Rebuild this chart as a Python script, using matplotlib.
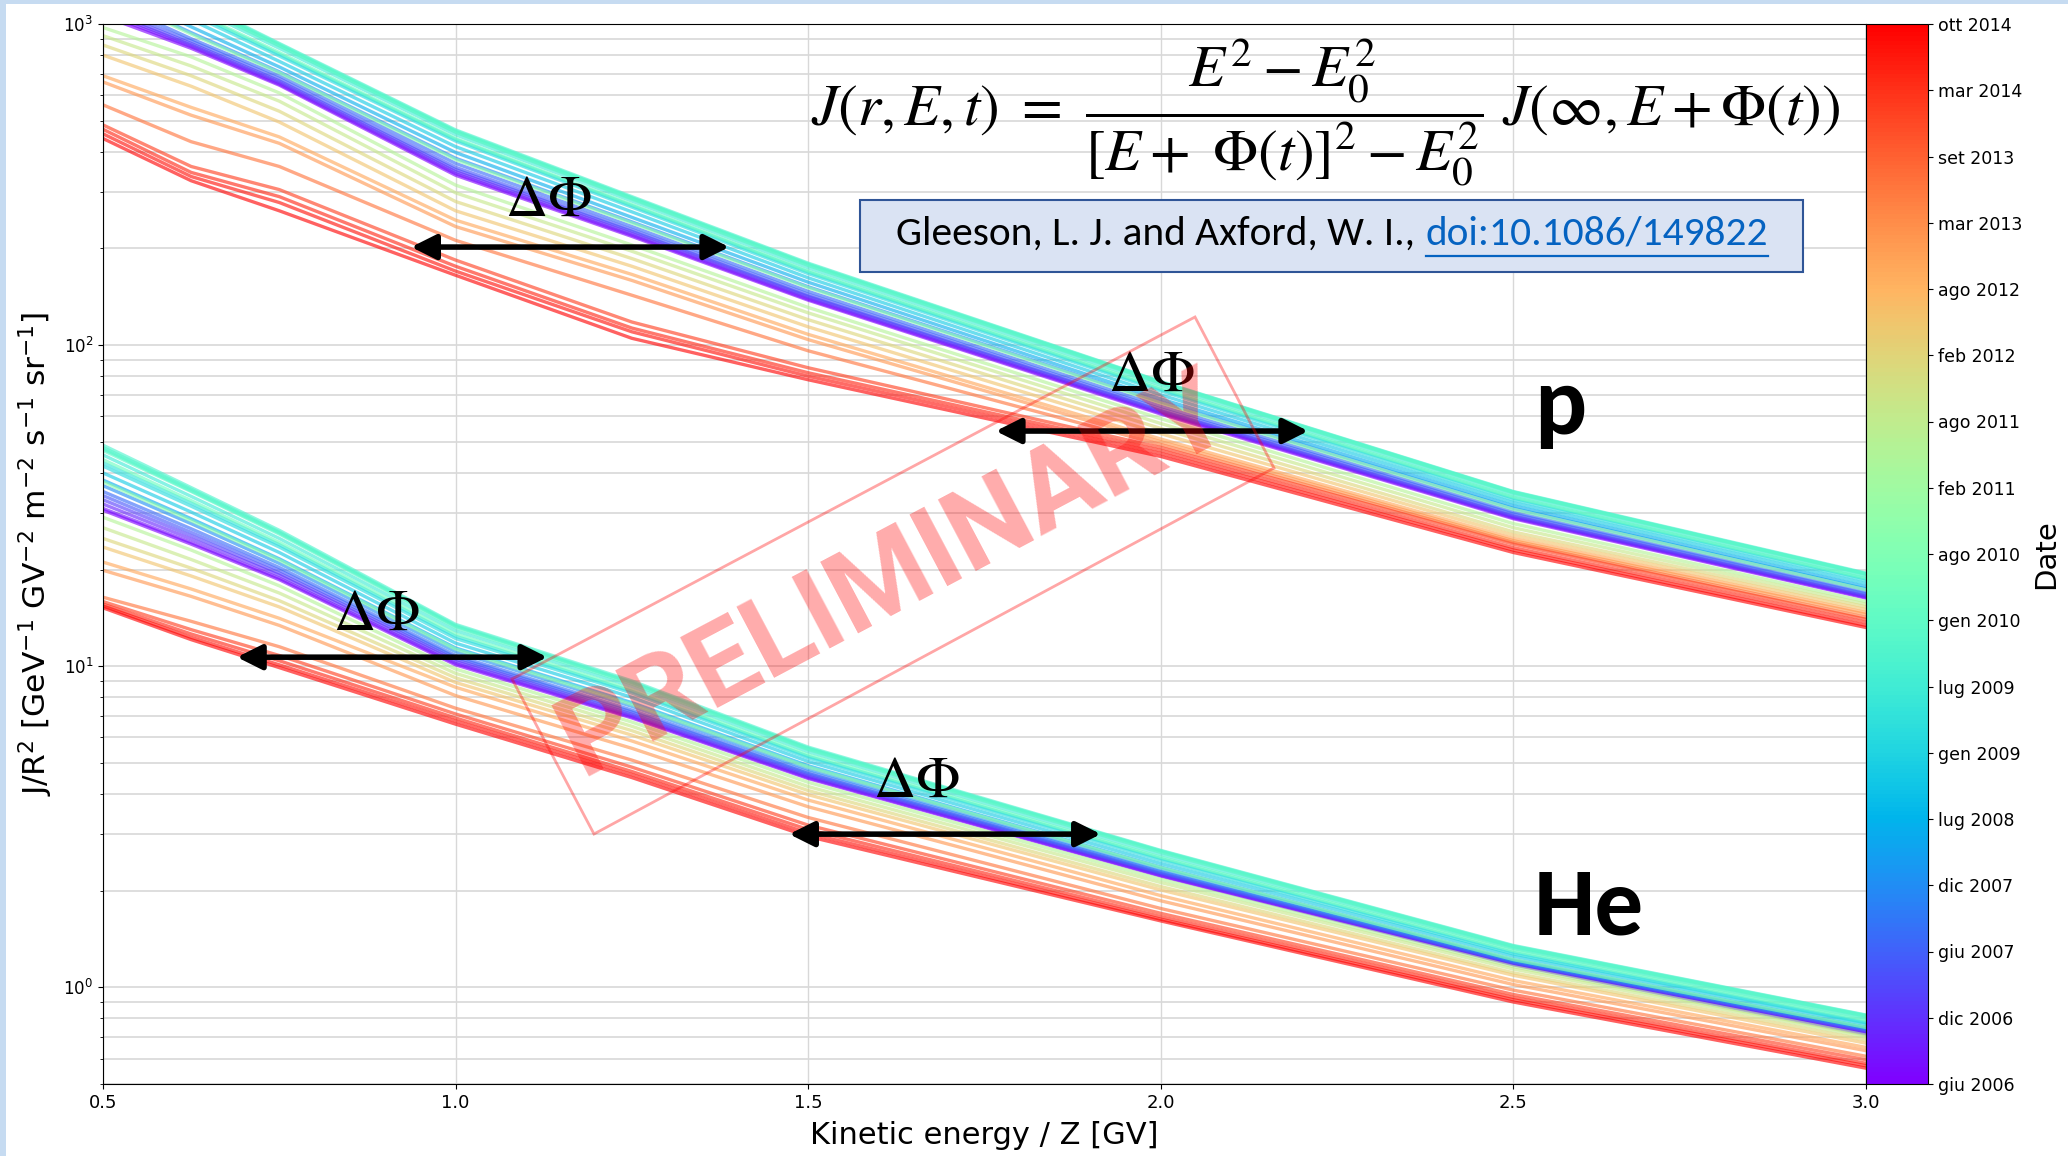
import matplotlib
matplotlib.use("Agg")
import matplotlib.pyplot as plt
import numpy as np
from matplotlib import font_manager
from matplotlib.cm import ScalarMappable
from matplotlib.colors import Normalize
from matplotlib.lines import Line2D
from matplotlib.patches import FancyArrowPatch, Polygon, Rectangle
from matplotlib.ticker import LogLocator, MultipleLocator, NullFormatter

W, H = 2068, 1156
DPI = 100

# energia cinetica / Z [GV]
energy = [0.5, 0.625, 0.75, 1.0, 1.25, 1.5, 2.0, 2.5, 3.0]

# posizione di ogni curva sulla barra colori (0 = giu 2006, 1 = ott 2014)
period = [0.00, 0.02, 0.05, 0.08, 0.11, 0.14, 0.19, 0.24, 0.29, 0.33, 0.35,
          0.37, 0.39, 0.40, 0.42, 0.43, 0.46, 0.53, 0.60, 0.64, 0.68, 0.72,
          0.77, 0.80, 0.85, 0.92, 0.95, 0.98, 1.00]

# protoni, J/R^2
proton_flux = [
    [1060, 840, 645, 338, 218, 138, 61.0, 28.8, 16.3],
    [1080, 850, 650, 342, 220, 139, 61.5, 29.0, 16.4],
    [1100, 860, 658, 347, 223, 141, 62.0, 29.2, 16.5],
    [1120, 870, 665, 352, 226, 142, 62.5, 29.4, 16.6],
    [1150, 885, 676, 358, 229, 144, 63.3, 29.8, 16.8],
    [1200, 900, 690, 368, 234, 147, 64.5, 30.2, 17.0],
    [1260, 940, 710, 382, 242, 152, 66.5, 31.0, 17.4],
    [1320, 980, 735, 398, 250, 157, 68.0, 31.6, 17.7],
    [1400, 1030, 765, 415, 260, 162, 70.0, 32.3, 18.1],
    [1480, 1070, 795, 432, 269, 167, 72.0, 33.0, 18.5],
    [1520, 1090, 805, 437, 272, 169, 72.8, 33.4, 18.7],
    [1600, 1140, 840, 452, 281, 174, 75.0, 34.2, 19.1],
    [1660, 1170, 858, 462, 287, 178, 76.5, 34.8, 19.4],
    [1700, 1190, 870, 468, 290, 180, 77.0, 35.0, 19.5],
    [1680, 1180, 865, 465, 288, 179, 76.8, 34.9, 19.4],
    [1640, 1160, 855, 460, 285, 177, 76.0, 34.6, 19.3],
    [1540, 1100, 815, 440, 274, 170, 73.5, 33.6, 18.8],
    [1250, 930, 705, 378, 240, 151, 66.0, 30.8, 17.3],
    [975, 790, 610, 315, 205, 131, 59.0, 27.8, 15.9],
    [920, 740, 575, 298, 196, 126, 57.0, 27.0, 15.6],
    [860, 690, 535, 280, 186, 120, 55.0, 26.2, 15.3],
    [800, 640, 495, 262, 176, 114, 53.0, 25.6, 15.0],
    [690, 550, 445, 245, 166, 108, 51.0, 25.0, 14.7],
    [660, 520, 425, 234, 159, 104, 50.0, 24.6, 14.5],
    [560, 430, 360, 212, 143, 96, 49.0, 24.3, 14.2],
    [485, 360, 305, 184, 118, 85, 48.0, 24.0, 14.0],
    [470, 345, 290, 176, 113, 82, 47.0, 23.4, 13.7],
    [455, 335, 278, 170, 110, 80, 46.0, 23.0, 13.4],
    [440, 325, 262, 165, 105, 78, 45.0, 22.6, 13.2],
]

# elio, J/R^2
helium_flux = [
    [30.6, 24.0, 18.6, 10.1, 6.90, 4.47, 2.22, 1.175, 0.715],
    [31.0, 24.3, 18.8, 10.2, 6.95, 4.50, 2.23, 1.18, 0.720],
    [32.0, 24.9, 19.2, 10.35, 7.02, 4.54, 2.245, 1.185, 0.725],
    [33.0, 25.5, 19.5, 10.5, 7.10, 4.58, 2.26, 1.19, 0.730],
    [34.0, 26.1, 19.9, 10.65, 7.20, 4.63, 2.275, 1.195, 0.735],
    [35.0, 26.8, 20.3, 10.8, 7.30, 4.68, 2.29, 1.20, 0.740],
    [36.5, 27.8, 20.9, 11.1, 7.50, 4.78, 2.33, 1.21, 0.745],
    [38.0, 28.8, 21.6, 11.4, 7.70, 4.90, 2.37, 1.22, 0.750],
    [40.0, 30.2, 22.6, 11.8, 8.00, 5.05, 2.43, 1.25, 0.765],
    [42.0, 31.5, 23.5, 12.2, 8.25, 5.18, 2.49, 1.27, 0.775],
    [43.0, 32.2, 23.9, 12.4, 8.35, 5.24, 2.52, 1.285, 0.780],
    [45.5, 33.8, 25.0, 12.9, 8.65, 5.42, 2.59, 1.32, 0.800],
    [47.5, 35.2, 26.0, 13.3, 8.88, 5.54, 2.65, 1.34, 0.815],
    [48.8, 36.0, 26.5, 13.5, 9.00, 5.60, 2.67, 1.35, 0.820],
    [48.0, 35.6, 26.2, 13.4, 8.92, 5.56, 2.66, 1.345, 0.818],
    [47.0, 35.0, 25.8, 13.2, 8.80, 5.50, 2.63, 1.33, 0.810],
    [44.0, 32.8, 24.3, 12.6, 8.45, 5.30, 2.54, 1.30, 0.790],
    [37.5, 28.4, 21.4, 11.3, 7.60, 4.85, 2.36, 1.22, 0.750],
    [29.1, 23.0, 17.8, 9.8, 6.70, 4.35, 2.17, 1.16, 0.710],
    [27.0, 21.5, 16.9, 9.5, 6.50, 4.22, 2.12, 1.14, 0.700],
    [25.0, 20.2, 16.0, 9.2, 6.30, 4.10, 2.06, 1.11, 0.685],
    [23.5, 19.1, 15.3, 8.9, 6.10, 3.98, 2.01, 1.09, 0.670],
    [21.1, 17.4, 14.1, 8.6, 5.85, 3.83, 1.93, 1.05, 0.650],
    [19.9, 16.5, 13.4, 8.1, 5.55, 3.65, 1.86, 1.02, 0.635],
    [16.4, 13.8, 11.5, 7.4, 5.10, 3.38, 1.76, 0.98, 0.610],
    [15.9, 13.0, 10.8, 7.1, 4.85, 3.20, 1.70, 0.95, 0.595],
    [15.6, 12.6, 10.4, 6.9, 4.70, 3.10, 1.66, 0.93, 0.580],
    [15.4, 12.3, 10.1, 6.75, 4.60, 3.02, 1.63, 0.915, 0.570],
    [15.2, 12.1, 9.9, 6.6, 4.50, 2.95, 1.61, 0.90, 0.560],
]

cbar_labels = ["giu 2006", "dic 2006", "giu 2007", "dic 2007", "lug 2008",
               "gen 2009", "lug 2009", "gen 2010", "ago 2010", "feb 2011",
               "ago 2011", "feb 2012", "ago 2012", "mar 2013", "set 2013",
               "mar 2014", "ott 2014"]

# frecce Delta Phi: energia iniziale, finale, flusso
arrow_start = [0.937, 1.766, 0.690, 1.473]
arrow_end = [1.388, 2.209, 1.130, 1.915]
arrow_level = [202, 54.0, 10.67, 3.0]
dphi_x = [1.132, 1.986, 0.887, 1.654]
dphi_y = [285, 81.2, 14.6, 4.41]


def fx(px):
    return px / W


def fy(py):
    return 1 - py / H


def pick_font(*names):
    for name in names:
        try:
            font_manager.findfont(font_manager.FontProperties(family=name),
                                  fallback_to_default=False)
            return name
        except ValueError:
            continue
    return "DejaVu Sans"


def fit_width(txt, width_px, renderer):
    bb = txt.get_window_extent(renderer)
    txt.set_fontsize(txt.get_fontsize() * width_px / bb.width)


def main():
    cite_font = pick_font("Carlito", "Lato", "Open Sans")
    narrow_font = pick_font("Liberation Sans Narrow", "Roboto", "DejaVu Sans")

    fig = plt.figure(figsize=(W / DPI, H / DPI), dpi=DPI, facecolor="#c6dbf1")
    fig.add_artist(Rectangle((fx(6), 0), 1, fy(4), transform=fig.transFigure,
                             facecolor="white", edgecolor="none", zorder=-10))
    renderer = fig.canvas.get_renderer()

    ax = fig.add_axes([fx(103), fy(1084), (1866 - 103) / W, (1084 - 24) / H])
    cax = fig.add_axes([fx(1866), fy(1084), 62 / W, (1084 - 24) / H])

    cmap = plt.get_cmap("rainbow")
    norm = Normalize(0, 1)

    for c, pf, hf in zip(period, proton_flux, helium_flux):
        ax.plot(energy, pf, color=cmap(norm(c)), lw=2.4, alpha=0.62, zorder=2)
        ax.plot(energy, hf, color=cmap(norm(c)), lw=2.4, alpha=0.62, zorder=2)

    ax.set_yscale("log")
    ax.set_xlim(0.5, 3.0)
    ax.set_ylim(0.5, 1000)
    ax.xaxis.set_major_locator(MultipleLocator(0.5))
    ax.yaxis.set_major_locator(LogLocator(10, numticks=10))
    ax.yaxis.set_minor_locator(LogLocator(10, subs=np.arange(2, 10), numticks=30))
    ax.yaxis.set_minor_formatter(NullFormatter())
    ax.grid(True, which="both", axis="y", color="#d8d8d8", lw=1.2)
    ax.grid(True, which="major", axis="x", color="#d8d8d8", lw=1.0)
    ax.set_axisbelow(True)
    ax.tick_params(axis="y", labelsize=12)
    ax.tick_params(axis="x", labelsize=13)

    ax.set_xlabel("Kinetic energy / Z [GV]", fontsize=22)
    ax.xaxis.set_label_coords(0.5, -0.035)
    ax.set_ylabel(r"J/R$^2$ [GeV$^{-1}$ GV$^{-2}$ m$^{-2}$ s$^{-1}$ sr$^{-1}$]",
                  fontsize=22.5)
    ax.yaxis.set_label_coords(-0.027, 0.5)

    # barra colori
    sm = ScalarMappable(norm=norm, cmap=cmap)
    cb = fig.colorbar(sm, cax=cax)
    cb.set_ticks(np.linspace(0, 1, len(cbar_labels)))
    cb.set_ticklabels(cbar_labels)
    cb.ax.tick_params(labelsize=12.5)
    cb.set_label("Date", fontsize=21)
    cb.ax.yaxis.set_label_coords(2.68, 0.5)

    # frecce e Delta Phi
    for x0, x1, y in zip(arrow_start, arrow_end, arrow_level):
        ax.add_patch(FancyArrowPatch(
            (x0, y), (x1, y),
            arrowstyle="<|-|>,head_length=0.5,head_width=0.25",
            mutation_scale=30, lw=4, color="black",
            shrinkA=0, shrinkB=0, zorder=6))
    for x, y in zip(dphi_x, dphi_y):
        ax.text(x, y, r"$\Delta\Phi$", ha="center", va="center", fontsize=42,
                math_fontfamily="stix", zorder=7)

    # etichette delle specie
    ax.text(2.529, 53.0, "p", fontsize=70, fontweight="bold", family=cite_font,
            va="baseline", ha="left", zorder=7)
    ax.text(2.529, 1.46, "He", fontsize=70, fontweight="bold", family=cite_font,
            va="baseline", ha="left", zorder=7)

    # formula di Gleeson e Axford
    eq = fig.text(fx(1326), fy(113),
                  r"$J(r,E,t)\ =\ \dfrac{E^2-E_0^2}{[E+\ \Phi(t)]^2-E_0^2}"
                  r"\ J\left(\infty,E+\Phi(t)\right)$",
                  ha="center", va="center", fontsize=40, math_fontfamily="stix")
    fit_width(eq, 1028, renderer)

    # riquadro con il riferimento
    fig.add_artist(Rectangle((fx(860), fy(272)), (1803 - 860) / W, (272 - 200) / H,
                             transform=fig.transFigure, facecolor="#dae3f3",
                             edgecolor="#2f5597", lw=1.5, zorder=4))
    cite_a = "Gleeson, L. J. and Axford, W. I., "
    cite_b = "doi:10.1086/149822"
    probe = fig.text(0, 0, cite_a + cite_b, fontsize=20, family=cite_font)
    fit_width(probe, 872, renderer)
    fs = probe.get_fontsize()
    probe.remove()
    fig.text(fx(896), fy(245), cite_a, fontsize=fs, family=cite_font,
             ha="left", va="baseline", zorder=5)
    link = fig.text(fx(1768), fy(245), cite_b, fontsize=fs, family=cite_font,
                    color="#0563c1", ha="right", va="baseline", zorder=5)
    bb = link.get_window_extent(renderer)
    fig.add_artist(Line2D([bb.x0 / W, bb.x1 / W], [fy(256), fy(256)],
                          transform=fig.transFigure, color="#0563c1", lw=1.6,
                          zorder=5))

    # timbro PRELIMINARY
    fig.add_artist(Polygon([(fx(512), fy(679)), (fx(1195), fy(317)),
                            (fx(1274), fy(468)), (fx(594), fy(834))],
                           closed=True, fill=False, edgecolor="red", alpha=0.35,
                           lw=2, transform=fig.transFigure, zorder=8))
    stamp = fig.text(fx(894), fy(575), "PRELIMINARY", fontsize=90,
                     fontweight="bold", family=narrow_font, color="red",
                     alpha=0.33, ha="center", va="center",
                     rotation_mode="anchor", zorder=8)
    fit_width(stamp, 739, renderer)
    stamp.set_rotation(27.9)

    fig.savefig("out.png", dpi=DPI, facecolor=fig.get_facecolor())
    plt.close(fig)


if __name__ == "__main__":
    main()
